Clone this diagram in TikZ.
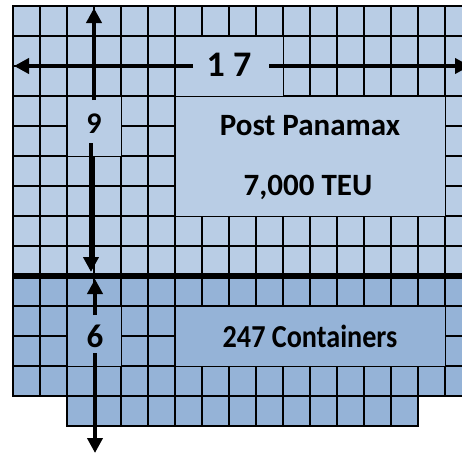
\documentclass[tikz,border=0pt]{standalone}
\usepackage{fontspec}
\setmainfont{Carlito}
\usetikzlibrary{arrows.meta}
\definecolor{topblue}{RGB}{185,205,229}
\definecolor{botblue}{RGB}{149,179,215}
\begin{document}
\begin{tikzpicture}[x=1pt,y=-1pt,
  cell/.style={draw=black,line width=1.3pt},
  box/.style={draw=black,line width=1.3pt,inner sep=0pt,anchor=north west},
  lbl/.style={inner sep=0pt,anchor=base},
  arr/.style={line width=4.5pt,-{Triangle[length=15pt,width=15pt]}}]
\useasboundingbox (0,0) rectangle (462,455);
\fill[white] (0,0) rectangle (462,455);
% upper grid (9 rows x 17 columns)
\foreach \r in {0,...,8}{\foreach \c in {0,...,16}{
  \draw[cell,fill=topblue] ({13+27*\c},{6+30*\r}) rectangle ++(27,30);}}
% lower grid
\foreach \r in {9,...,12}{\foreach \c in {0,...,16}{
  \draw[cell,fill=botblue] ({13+27*\c},{6+30*\r}) rectangle ++(27,30);}}
\foreach \c in {2,...,14}{
  \draw[cell,fill=botblue] ({13+27*\c},396) rectangle ++(27,30);}
% merged boxes
\node[box,fill=topblue,minimum width=108pt,minimum height=60pt] (b17) at (175,36) {};
\node[box,fill=topblue,minimum width=54pt,minimum height=60pt] (b9) at (67,96) {};
\node[box,fill=topblue,minimum width=270pt,minimum height=120pt] (bpost) at (175,96) {};
\node[box,fill=botblue,minimum width=54pt,minimum height=60pt] (b6) at (67,306) {};
\node[box,fill=botblue,minimum width=270pt,minimum height=60pt] (bcont) at (175,306) {};
% dividing line
\draw[line width=5.5pt] (13,276) -- (472,276);
% texts
\node[lbl,font=\bfseries\fontsize{36}{36}\selectfont] (t17) at (229,76) {1 7};
\node[lbl,font=\bfseries\fontsize{30}{30}\selectfont] (t9) at (94,133) {9};
\node[lbl,font=\bfseries\fontsize{33}{33}\selectfont] (t6) at (95,347) {6};
\node[lbl,font=\bfseries\fontsize{31}{31}\selectfont] (tpost) at (310,135) {Post Panamax};
\node[lbl,font=\bfseries\fontsize{31}{31}\selectfont] (tteu) at (308,195) {7,000 TEU};
\node[lbl,font=\bfseries\fontsize{32}{32}\selectfont] (tcont) at (310,347) {\scalebox{0.88}[1]{247 Containers}};
% arrow ends
\coordinate (hl1) at (193,66);
\coordinate (hl0) at (14,66);
\coordinate (hr1) at (269,66);
\coordinate (hr0) at (470,66);
\coordinate (vt1) at (94,100);
\coordinate (vt0) at (94,8);
\coordinate (vd1) at (91,143);
\coordinate (vd0) at (91,272);
\coordinate (vu1) at (95,315);
\coordinate (vu0) at (95,279);
\coordinate (vb1) at (95,353);
\coordinate (vb0) at (95,453);
\draw[arr] (hl1) -- (hl0);
\draw[arr] (hr1) -- (hr0);
\draw[arr] (vt1) -- (vt0);
\draw[arr] (vd1) -- (vd0);
\draw[arr] (vu1) -- (vu0);
\draw[arr] (vb1) -- (vb0);
\end{tikzpicture}
\end{document}
